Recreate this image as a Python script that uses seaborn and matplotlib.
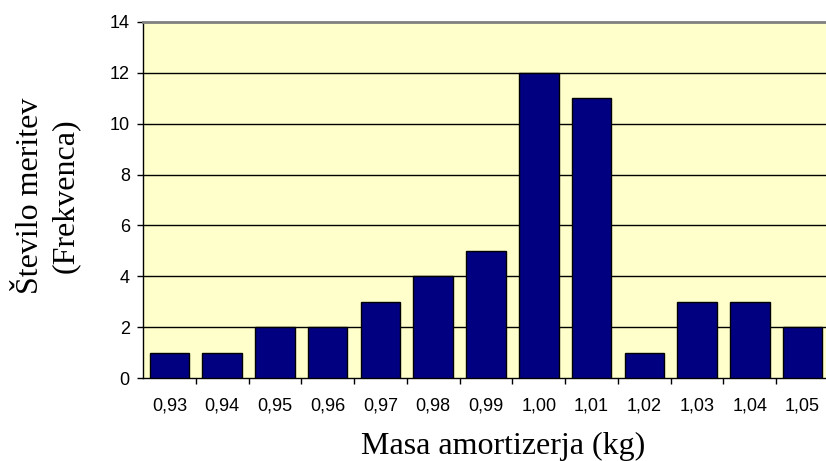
import matplotlib
matplotlib.use("Agg")
import matplotlib.pyplot as plt
import seaborn as sns
import pandas as pd
import numpy as np

categories = ["0,93", "0,94", "0,95", "0,96", "0,97", "0,98", "0,99",
              "1,00", "1,01", "1,02", "1,03", "1,04", "1,05"]
counts = [1, 1, 2, 2, 3, 4, 5, 12, 11, 1, 3, 3, 2]
y_ticks = [0, 2, 4, 6, 8, 10, 12, 14]

sns.set_theme(style="white")
plt.rcParams['font.family'] = ['Liberation Sans', 'DejaVu Sans']
plt.rcParams['text.color'] = 'black'
plt.rcParams['axes.labelcolor'] = 'black'
plt.rcParams['xtick.color'] = 'black'
plt.rcParams['ytick.color'] = 'black'

df = pd.DataFrame({"masa": categories, "n": counts})

fig = plt.figure(figsize=(8.26, 4.61), dpi=100)
ax = fig.add_axes([143/826, 1-378/461, 686/826, 356/461])
ax.set_facecolor("#FFFFCC")

sns.barplot(data=df, x="masa", y="n", order=categories, color="#000080",
            saturation=1, width=0.75, edgecolor="black", linewidth=1.0,
            ax=ax, zorder=3)

ax.set_xlim(-0.5, len(categories) - 0.5)
ax.set_ylim(0, 14)
ax.set_yticks(y_ticks)
ax.set_yticklabels([str(t) for t in y_ticks])
for t in y_ticks[1:-1]:
    ax.axhline(t, color="black", linewidth=1.0, zorder=1)

# ticks
ax.tick_params(axis="x", which="major", length=0, pad=14, labelsize=13,
               colors="black", labelcolor="black")
ax.set_xticks(np.arange(0.5, len(categories) - 1, 1.0), minor=True)
ax.tick_params(axis="x", which="minor", length=4, width=1, direction="out",
               color="black", bottom=True)
ax.tick_params(axis="y", which="major", length=4, width=1, direction="out",
               pad=5.5, labelsize=13, colors="black", labelcolor="black", left=True)

# spines
for s in ["left", "bottom"]:
    ax.spines[s].set_color("black")
    ax.spines[s].set_linewidth(1.0)
ax.spines["top"].set_color("#808080")
ax.spines["top"].set_linewidth(2.0)
ax.spines["right"].set_visible(False)

serif = ['Liberation Serif', 'DejaVu Serif']
ax.set_xlabel("Masa amortizerja (kg)", fontsize=23, family=serif, color="black")
ax.xaxis.set_label_coords(0.525, -0.152)
ax.xaxis.label.set_va("top")
ax.set_ylabel("Število meritev\n(Frekvenca)", fontsize=23, family=serif,
              linespacing=1.25, color="black")
ax.yaxis.set_label_coords(-0.092, 0.513)

fig.savefig("out.png", dpi=100)
